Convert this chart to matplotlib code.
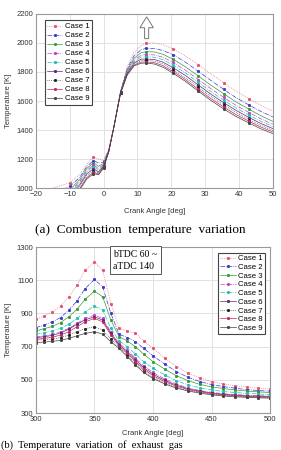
import numpy as np
import matplotlib.pyplot as plt
from matplotlib.patches import FancyArrow

plt.rcParams['font.family'] = ['Liberation Sans', 'DejaVu Sans']

labels = ['Case 1', 'Case 2', 'Case 3', 'Case 4', 'Case 5', 'Case 6', 'Case 7', 'Case 8', 'Case 9']

# (a) combustion temperature
xs_top = [-20, -15, -10, -7, -5, -3, -1.5, 0, 1.5, 3, 5, 7, 9, 11, 12.5, 15, 17.5, 20.5, 24, 28, 31.5, 35.5, 39, 43, 46.5, 50]
top_c1 = [940, 1000, 1037, 1095, 1165, 1215, 1200, 1190, 1270, 1420, 1665, 1840, 1935, 1982, 1998, 2000, 1988, 1960, 1912, 1850, 1790, 1725, 1670, 1615, 1570, 1530]
top_c2 = [905, 960, 1012, 1075, 1148, 1190, 1172, 1178, 1262, 1418, 1665, 1825, 1912, 1952, 1963, 1962, 1948, 1920, 1870, 1805, 1745, 1680, 1625, 1572, 1528, 1490]
top_c3 = [885, 935, 990, 1060, 1135, 1175, 1150, 1170, 1258, 1418, 1665, 1815, 1895, 1932, 1940, 1938, 1922, 1888, 1838, 1772, 1712, 1650, 1595, 1543, 1498, 1460]
top_c4 = [875, 920, 975, 1048, 1122, 1160, 1135, 1163, 1255, 1418, 1665, 1808, 1882, 1915, 1920, 1918, 1902, 1866, 1815, 1748, 1688, 1625, 1572, 1520, 1477, 1440]
top_c5 = [870, 910, 965, 1038, 1112, 1148, 1125, 1158, 1253, 1418, 1663, 1802, 1872, 1902, 1905, 1902, 1885, 1848, 1796, 1728, 1668, 1605, 1554, 1502, 1460, 1425]
top_c6 = [865, 900, 952, 1025, 1098, 1133, 1112, 1152, 1252, 1418, 1660, 1795, 1862, 1888, 1890, 1886, 1868, 1830, 1778, 1710, 1650, 1588, 1537, 1486, 1445, 1410]
top_c7 = [860, 893, 942, 1012, 1085, 1120, 1103, 1148, 1251, 1418, 1658, 1790, 1855, 1878, 1880, 1875, 1856, 1816, 1762, 1694, 1634, 1572, 1522, 1472, 1432, 1398]
top_c8 = [855, 887, 932, 1000, 1072, 1110, 1097, 1144, 1250, 1418, 1655, 1785, 1848, 1868, 1870, 1864, 1844, 1803, 1750, 1680, 1620, 1558, 1508, 1460, 1420, 1387]
top_c9 = [850, 880, 922, 990, 1062, 1100, 1092, 1140, 1250, 1418, 1652, 1780, 1842, 1860, 1862, 1855, 1833, 1792, 1738, 1668, 1607, 1545, 1495, 1448, 1408, 1375]
top_marks = [2, 5, 7, 10, 14, 17, 19, 21, 23]

# (b) temperature, bTDC 60 ~ aTDC 140
xs_bot = [300, 307, 314, 321, 328, 335, 342, 350, 357, 364, 371, 378, 385, 392, 400, 410, 420, 430, 440, 450, 460, 470, 480, 490, 500]
bot_c1 = [865, 885, 910, 945, 1000, 1070, 1160, 1210, 1160, 960, 810, 795, 780, 735, 690, 630, 580, 540, 512, 490, 475, 465, 457, 450, 445]
bot_c2 = [815, 830, 850, 875, 920, 975, 1050, 1105, 1060, 900, 775, 755, 730, 690, 645, 595, 550, 515, 490, 472, 460, 450, 442, 436, 432]
bot_c3 = [795, 808, 822, 845, 880, 925, 985, 1035, 1000, 860, 760, 735, 700, 655, 610, 565, 525, 495, 473, 458, 448, 440, 433, 428, 424]
bot_c4 = [760, 765, 775, 790, 810, 840, 870, 890, 870, 790, 720, 680, 630, 585, 545, 505, 475, 452, 436, 425, 417, 412, 408, 405, 403]
bot_c5 = [775, 783, 795, 810, 835, 870, 910, 945, 920, 810, 735, 700, 655, 610, 570, 530, 495, 470, 452, 440, 430, 424, 419, 415, 412]
bot_c6 = [755, 760, 768, 783, 805, 835, 862, 880, 860, 780, 712, 670, 620, 575, 535, 497, 468, 447, 432, 421, 413, 408, 404, 401, 399]
bot_c7 = [740, 742, 745, 755, 770, 790, 808, 820, 800, 745, 700, 650, 600, 555, 515, 482, 455, 437, 424, 414, 407, 402, 398, 395, 393]
bot_c8 = [745, 750, 757, 770, 790, 820, 850, 870, 850, 770, 705, 660, 610, 565, 525, 490, 462, 442, 428, 418, 410, 405, 401, 398, 396]
bot_c9 = [725, 728, 732, 738, 750, 765, 780, 790, 775, 730, 690, 640, 590, 545, 508, 476, 450, 433, 420, 410, 403, 398, 395, 392, 390]

top_series = [top_c1, top_c2, top_c3, top_c4, top_c5, top_c6, top_c7, top_c8, top_c9]
bot_series = [bot_c1, bot_c2, bot_c3, bot_c4, bot_c5, bot_c6, bot_c7, bot_c8, bot_c9]

colors = ['#e8506a', '#3a3ad0', '#3a9a3a', '#c040c0', '#20c0b0', '#5a2a7a', '#222222', '#c02a5a', '#444444']
styles = [':', '-.', '-', '-.', '-.', '-', ':', '-', '-']

fig = plt.figure(figsize=(2.81, 4.5), dpi=100)
ax1 = fig.add_axes([0.128, 0.582, 0.843, 0.387])
ax2 = fig.add_axes([0.128, 0.082, 0.833, 0.369])

for i in range(9):
    ax1.plot(xs_top, top_series[i], color=colors[i], ls=styles[i], lw=0.5,
             marker='s', ms=1.1, markevery=top_marks, label=labels[i])
    ax2.plot(xs_bot, bot_series[i], color=colors[i], ls=styles[i], lw=0.5,
             marker='s', ms=1.1, label=labels[i])

ax1.set_xlim(-20, 50)
ax1.set_ylim(1000, 2200)
ax1.set_xticks(np.arange(-20, 51, 10))
ax1.set_yticks(np.arange(1000, 2201, 200))
ax2.set_xlim(300, 500)
ax2.set_ylim(300, 1300)
ax2.set_xticks(np.arange(300, 501, 50))
ax2.set_yticks(np.arange(300, 1301, 200))

for ax, lp in ((ax1, 7), (ax2, 5)):
    ax.grid(True, color='#dddddd', lw=0.6)
    ax.set_axisbelow(True)
    ax.tick_params(labelsize=5.5, length=0, pad=2, colors='#333333')
    for s in ax.spines.values():
        s.set_color('#999999')
        s.set_linewidth(0.8)
    ax.set_xlabel('Crank Angle [deg]', fontsize=5.5, labelpad=lp, color='#333333')
    ax.set_ylabel('Temperature [K]', fontsize=5.5, labelpad=3, color='#333333')

leg1 = ax1.legend(loc='upper left', bbox_to_anchor=(0.02, 0.985), fontsize=5.6,
                  handlelength=2.0, handletextpad=0.3, labelspacing=0.2,
                  borderpad=0.3, fancybox=False, framealpha=1)
leg1.get_frame().set_edgecolor('#444444')
leg1.get_frame().set_linewidth(0.8)

leg2 = ax2.legend(loc='upper right', bbox_to_anchor=(0.995, 0.99), fontsize=5.6,
                  handlelength=2.0, handletextpad=0.3, labelspacing=0.16,
                  borderpad=0.3, fancybox=False, framealpha=1)
leg2.get_frame().set_edgecolor('#444444')
leg2.get_frame().set_linewidth(0.8)

# hollow arrow
ax1.add_patch(FancyArrow(12.7, 2030, 0, 150, width=1.2, head_width=4.0, head_length=75,
                         length_includes_head=True, facecolor='white', edgecolor='#777777', lw=0.7))

ax2.text(0.33, 0.985, 'bTDC 60 ~\naTDC 140', transform=ax2.transAxes, va='top', ha='left',
         fontsize=7, family='Liberation Serif', linespacing=1.5,
         bbox=dict(boxstyle='square,pad=0.35', facecolor='white', edgecolor='#555555', lw=0.7))

fig.text(0.5, 0.488, '(a)  Combustion  temperature  variation', ha='center', va='center',
         fontsize=9.5, family='Liberation Serif')
fig.text(0.005, 0.0, '(b)  Temperature  variation  of  exhaust  gas', ha='left',
         va='bottom', fontsize=7.5, family='Liberation Serif')

fig.savefig('out.png', dpi=100)
